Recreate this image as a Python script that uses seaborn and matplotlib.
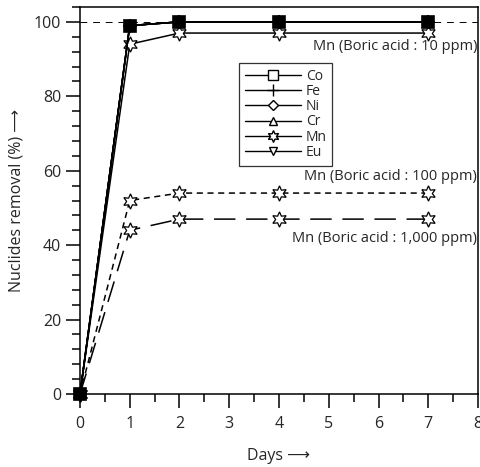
import numpy as np
import pandas as pd
import seaborn as sns
import matplotlib.pyplot as plt
from matplotlib.lines import Line2D
from matplotlib.ticker import MultipleLocator

days = [0, 1, 2, 4, 7]
# Co, Fe, Ni, Cr, Eu overlap almost completely
co = [0, 99, 100, 100, 100]
fe = [0, 99, 100, 100, 100]
ni = [0, 99, 100, 100, 100]
cr = [0, 99, 100, 100, 100]
eu = [0, 99, 100, 100, 100]
mn_10 = [0, 94, 97, 97, 97]
mn_100 = [0, 52, 54, 54, 54]
mn_1000 = [0, 44, 47, 47, 47]

nuclides = ['Co', 'Fe', 'Ni', 'Cr', 'Mn', 'Eu']
star = (6, 1, 0)
markers = {'Co': 's', 'Fe': '+', 'Ni': 'D', 'Cr': '^', 'Mn': star, 'Eu': 'v'}
msizes = {'Co': 9, 'Fe': 10, 'Ni': 6, 'Cr': 7, 'Mn': 10, 'Eu': 7}

sns.set_style("ticks")
plt.rcParams['font.family'] = ['Open Sans', 'DejaVu Sans']

fig = plt.figure(figsize=(4.81, 4.67), dpi=100)
ax = fig.add_axes([0.1663, 0.1563, 0.8275, 0.8287])

ax.axhline(100, color='black', lw=0.7, ls=(0, (7, 6)), zorder=1)

lw = 1.1
series = [('Co', co), ('Fe', fe), ('Ni', ni), ('Cr', cr), ('Eu', eu)]
for name, vals in series:
    sns.lineplot(x=days, y=vals, ax=ax, color='black', lw=lw, marker=markers[name],
                 markersize=msizes[name], mfc='black', mec='black', mew=1.2,
                 clip_on=False, zorder=3)

sns.lineplot(x=days, y=mn_10, ax=ax, color='black', lw=lw, marker=star,
             markersize=11, mfc='white', mec='black', mew=0.9, clip_on=False, zorder=2)
sns.lineplot(x=days, y=mn_100, ax=ax, color='black', lw=lw, ls=(0, (4, 3)), marker=star,
             markersize=11, mfc='white', mec='black', mew=0.9, clip_on=False, zorder=2)
sns.lineplot(x=days, y=mn_1000, ax=ax, color='black', lw=lw, ls=(0, (14, 7)), marker=star,
             markersize=11, mfc='white', mec='black', mew=0.9, clip_on=False, zorder=2)

ax.set_xlim(0, 8)
ax.set_ylim(0, 104)
ax.xaxis.set_major_locator(MultipleLocator(1))
ax.xaxis.set_minor_locator(MultipleLocator(0.5))
ax.yaxis.set_major_locator(MultipleLocator(20))
ax.yaxis.set_minor_locator(MultipleLocator(4))
ax.tick_params(which='major', direction='out', length=10, width=1.1, labelsize=11.5, color='black')
ax.tick_params(axis='x', which='major', pad=6)
ax.tick_params(which='minor', direction='out', length=6, width=1.1, color='black')
for sp in ax.spines.values():
    sp.set_linewidth(1.1)
    sp.set_color('black')

ax.set_xlabel('Days \u27f6', fontsize=11.5, labelpad=11)
ax.set_ylabel('Nuclides removal (%) \u27f6', fontsize=11.5, labelpad=7)

ax.text(7.98, 95.5, 'Mn (Boric acid : 10 ppm)', ha='right', va='top', fontsize=10.5)
ax.text(7.98, 60.5, 'Mn (Boric acid : 100 ppm)', ha='right', va='top', fontsize=10.5)
ax.text(7.98, 43.8, 'Mn (Boric acid : 1,000 ppm)', ha='right', va='top', fontsize=10.5)

handles = [Line2D([], [], color='black', lw=1.0, marker=markers[n], markersize=msizes[n] * 0.85,
                  mfc='white', mec='black', mew=1.0) for n in nuclides]
leg = ax.legend(handles, nuclides, loc='upper left', bbox_to_anchor=(0.382, 0.873),
                fontsize=10, handlelength=4.1, handletextpad=0.3, labelspacing=0.02,
                borderpad=0.4, frameon=True, fancybox=False, edgecolor='black')
leg.get_frame().set_linewidth(0.9)

fig.savefig('out.png', dpi=100)
